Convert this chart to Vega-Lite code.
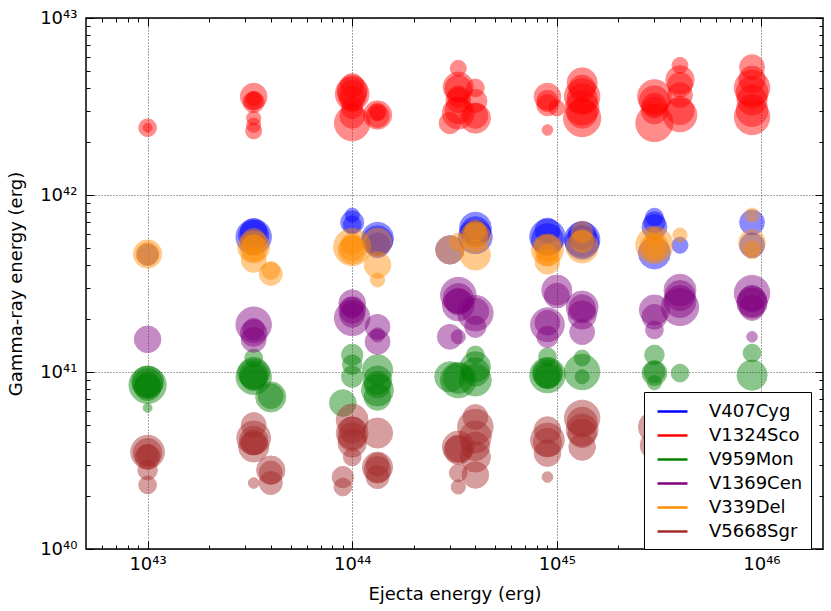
{
  "$schema": "https://vega.github.io/schema/vega-lite/v6.json",
  "width": 737,
  "height": 531,
  "autosize": {"type": "none"},
  "padding": {"left": 86, "top": 18, "right": 8, "bottom": 62},
  "background": "white",
  "data": {"values": [
    {"s": "V407Cyg", "x": 1e43, "y": 4.6e41, "w": 12},
    {"s": "V407Cyg", "x": 3.3e43, "y": 5.8e41, "w": 20},
    {"s": "V407Cyg", "x": 3.3e43, "y": 6.2e41, "w": 15},
    {"s": "V407Cyg", "x": 3.3e43, "y": 5.9e41, "w": 17},
    {"s": "V407Cyg", "x": 1e44, "y": 7e41, "w": 13},
    {"s": "V407Cyg", "x": 1e44, "y": 7.7e41, "w": 8},
    {"s": "V407Cyg", "x": 1e44, "y": 6.8e41, "w": 10},
    {"s": "V407Cyg", "x": 1.33e44, "y": 5.7e41, "w": 18},
    {"s": "V407Cyg", "x": 1.33e44, "y": 5.2e41, "w": 14},
    {"s": "V407Cyg", "x": 1.33e44, "y": 5.5e41, "w": 17},
    {"s": "V407Cyg", "x": 3e44, "y": 4.9e41, "w": 16},
    {"s": "V407Cyg", "x": 4e44, "y": 6.5e41, "w": 18},
    {"s": "V407Cyg", "x": 4e44, "y": 5.8e41, "w": 19},
    {"s": "V407Cyg", "x": 4e44, "y": 6.2e41, "w": 17},
    {"s": "V407Cyg", "x": 9e44, "y": 5.8e41, "w": 20},
    {"s": "V407Cyg", "x": 9e44, "y": 6.3e41, "w": 14},
    {"s": "V407Cyg", "x": 9e44, "y": 5.6e41, "w": 18},
    {"s": "V407Cyg", "x": 1.33e45, "y": 5.6e41, "w": 20},
    {"s": "V407Cyg", "x": 1.33e45, "y": 5.9e41, "w": 16},
    {"s": "V407Cyg", "x": 1.33e45, "y": 5.4e41, "w": 19},
    {"s": "V407Cyg", "x": 3e45, "y": 7.5e41, "w": 10},
    {"s": "V407Cyg", "x": 3e45, "y": 6.6e41, "w": 14},
    {"s": "V407Cyg", "x": 3e45, "y": 7e41, "w": 12},
    {"s": "V407Cyg", "x": 3e45, "y": 4.7e41, "w": 18},
    {"s": "V407Cyg", "x": 4e45, "y": 5.2e41, "w": 9},
    {"s": "V407Cyg", "x": 9e45, "y": 7e41, "w": 14},
    {"s": "V407Cyg", "x": 9e45, "y": 5.2e41, "w": 14},

    {"s": "V1324Sco", "x": 1e43, "y": 2.4e42, "w": 10},
    {"s": "V1324Sco", "x": 1e43, "y": 2.4e42, "w": 5},
    {"s": "V1324Sco", "x": 3.3e43, "y": 3.6e42, "w": 15},
    {"s": "V1324Sco", "x": 3.3e43, "y": 3.35e42, "w": 12},
    {"s": "V1324Sco", "x": 3.3e43, "y": 3.4e42, "w": 10},
    {"s": "V1324Sco", "x": 3.3e43, "y": 3.5e42, "w": 8},
    {"s": "V1324Sco", "x": 3.3e43, "y": 2.72e42, "w": 8},
    {"s": "V1324Sco", "x": 3.3e43, "y": 2.48e42, "w": 8},
    {"s": "V1324Sco", "x": 3.3e43, "y": 2.3e42, "w": 9},
    {"s": "V1324Sco", "x": 1e44, "y": 3.72e42, "w": 19},
    {"s": "V1324Sco", "x": 1e44, "y": 3.9e42, "w": 17},
    {"s": "V1324Sco", "x": 1e44, "y": 3.7e42, "w": 16},
    {"s": "V1324Sco", "x": 1e44, "y": 3.5e42, "w": 14},
    {"s": "V1324Sco", "x": 1e44, "y": 4.18e42, "w": 13},
    {"s": "V1324Sco", "x": 1e44, "y": 3.1e42, "w": 12},
    {"s": "V1324Sco", "x": 1e44, "y": 2.8e42, "w": 14},
    {"s": "V1324Sco", "x": 1e44, "y": 2.55e42, "w": 20},
    {"s": "V1324Sco", "x": 1.33e44, "y": 2.83e42, "w": 16},
    {"s": "V1324Sco", "x": 1.33e44, "y": 2.8e42, "w": 13},
    {"s": "V1324Sco", "x": 1.33e44, "y": 2.95e42, "w": 10},
    {"s": "V1324Sco", "x": 1.33e44, "y": 2.9e42, "w": 8},
    {"s": "V1324Sco", "x": 3e44, "y": 2.55e42, "w": 12},
    {"s": "V1324Sco", "x": 3.3e44, "y": 5.2e42, "w": 9},
    {"s": "V1324Sco", "x": 3.3e44, "y": 4.07e42, "w": 17},
    {"s": "V1324Sco", "x": 3.3e44, "y": 4.0e42, "w": 15},
    {"s": "V1324Sco", "x": 3.3e44, "y": 3.6e42, "w": 12},
    {"s": "V1324Sco", "x": 3.3e44, "y": 3.44e42, "w": 14},
    {"s": "V1324Sco", "x": 3.3e44, "y": 3.0e42, "w": 15},
    {"s": "V1324Sco", "x": 3.3e44, "y": 2.9e42, "w": 18},
    {"s": "V1324Sco", "x": 4e44, "y": 4.03e42, "w": 10},
    {"s": "V1324Sco", "x": 4e44, "y": 3.4e42, "w": 13},
    {"s": "V1324Sco", "x": 4e44, "y": 2.8e42, "w": 14},
    {"s": "V1324Sco", "x": 4e44, "y": 2.72e42, "w": 17},
    {"s": "V1324Sco", "x": 9e44, "y": 3.6e42, "w": 15},
    {"s": "V1324Sco", "x": 9e44, "y": 3.4e42, "w": 12},
    {"s": "V1324Sco", "x": 9e44, "y": 3.22e42, "w": 12},
    {"s": "V1324Sco", "x": 9e44, "y": 2.33e42, "w": 6},
    {"s": "V1324Sco", "x": 1e45, "y": 3.1e42, "w": 9},
    {"s": "V1324Sco", "x": 1.33e45, "y": 4.3e42, "w": 17},
    {"s": "V1324Sco", "x": 1.33e45, "y": 4.0e42, "w": 15},
    {"s": "V1324Sco", "x": 1.33e45, "y": 3.6e42, "w": 20},
    {"s": "V1324Sco", "x": 1.33e45, "y": 3.5e42, "w": 17},
    {"s": "V1324Sco", "x": 1.33e45, "y": 3.1e42, "w": 19},
    {"s": "V1324Sco", "x": 1.33e45, "y": 2.9e42, "w": 17},
    {"s": "V1324Sco", "x": 1.33e45, "y": 2.72e42, "w": 21},
    {"s": "V1324Sco", "x": 3e45, "y": 3.6e42, "w": 19},
    {"s": "V1324Sco", "x": 3e45, "y": 3.4e42, "w": 17},
    {"s": "V1324Sco", "x": 3e45, "y": 3.2e42, "w": 14},
    {"s": "V1324Sco", "x": 3e45, "y": 3.0e42, "w": 15},
    {"s": "V1324Sco", "x": 3e45, "y": 2.55e42, "w": 21},
    {"s": "V1324Sco", "x": 4e45, "y": 5.4e42, "w": 9},
    {"s": "V1324Sco", "x": 4e45, "y": 4.47e42, "w": 16},
    {"s": "V1324Sco", "x": 4e45, "y": 4.2e42, "w": 14},
    {"s": "V1324Sco", "x": 4e45, "y": 3.67e42, "w": 14},
    {"s": "V1324Sco", "x": 4e45, "y": 3.0e42, "w": 16},
    {"s": "V1324Sco", "x": 4e45, "y": 2.83e42, "w": 19},
    {"s": "V1324Sco", "x": 9e45, "y": 5.28e42, "w": 14},
    {"s": "V1324Sco", "x": 9e45, "y": 4.5e42, "w": 15},
    {"s": "V1324Sco", "x": 9e45, "y": 4.03e42, "w": 20},
    {"s": "V1324Sco", "x": 9e45, "y": 3.8e42, "w": 18},
    {"s": "V1324Sco", "x": 9e45, "y": 3.44e42, "w": 17},
    {"s": "V1324Sco", "x": 9e45, "y": 3.0e42, "w": 18},
    {"s": "V1324Sco", "x": 9e45, "y": 2.76e42, "w": 20},

    {"s": "V959Mon", "x": 1e43, "y": 8.45e40, "w": 21},
    {"s": "V959Mon", "x": 1e43, "y": 8.8e40, "w": 18},
    {"s": "V959Mon", "x": 1e43, "y": 8.6e40, "w": 17},
    {"s": "V959Mon", "x": 1e43, "y": 8.5e40, "w": 14},
    {"s": "V959Mon", "x": 1e43, "y": 8.2e40, "w": 15},
    {"s": "V959Mon", "x": 1e43, "y": 6.27e40, "w": 5},
    {"s": "V959Mon", "x": 3.3e43, "y": 9.4e40, "w": 20},
    {"s": "V959Mon", "x": 3.3e43, "y": 9.86e40, "w": 18},
    {"s": "V959Mon", "x": 3.3e43, "y": 9.6e40, "w": 16},
    {"s": "V959Mon", "x": 3.3e43, "y": 9.3e40, "w": 15},
    {"s": "V959Mon", "x": 3.3e43, "y": 1.2e41, "w": 10},
    {"s": "V959Mon", "x": 4e43, "y": 7.23e40, "w": 17},
    {"s": "V959Mon", "x": 4e43, "y": 7.3e40, "w": 14},
    {"s": "V959Mon", "x": 9e43, "y": 6.68e40, "w": 15},
    {"s": "V959Mon", "x": 1e44, "y": 1.25e41, "w": 12},
    {"s": "V959Mon", "x": 1e44, "y": 1.1e41, "w": 11},
    {"s": "V959Mon", "x": 1e44, "y": 9.4e40, "w": 12},
    {"s": "V959Mon", "x": 1.33e44, "y": 1.03e41, "w": 17},
    {"s": "V959Mon", "x": 1.33e44, "y": 9e40, "w": 16},
    {"s": "V959Mon", "x": 1.33e44, "y": 8.5e40, "w": 15},
    {"s": "V959Mon", "x": 1.33e44, "y": 7.9e40, "w": 18},
    {"s": "V959Mon", "x": 1.33e44, "y": 7.23e40, "w": 15},
    {"s": "V959Mon", "x": 3e44, "y": 9.4e40, "w": 17},
    {"s": "V959Mon", "x": 3.3e44, "y": 9.0e40, "w": 20},
    {"s": "V959Mon", "x": 3.3e44, "y": 9.2e40, "w": 17},
    {"s": "V959Mon", "x": 4e44, "y": 1.07e41, "w": 17},
    {"s": "V959Mon", "x": 4e44, "y": 1.0e41, "w": 16},
    {"s": "V959Mon", "x": 4e44, "y": 9.0e40, "w": 18},
    {"s": "V959Mon", "x": 4e44, "y": 1.25e41, "w": 10},
    {"s": "V959Mon", "x": 9e44, "y": 9.6e40, "w": 20},
    {"s": "V959Mon", "x": 9e44, "y": 9.86e40, "w": 17},
    {"s": "V959Mon", "x": 9e44, "y": 9.7e40, "w": 16},
    {"s": "V959Mon", "x": 9e44, "y": 9.5e40, "w": 14},
    {"s": "V959Mon", "x": 9e44, "y": 1.22e41, "w": 10},
    {"s": "V959Mon", "x": 1.33e45, "y": 1.0e41, "w": 20},
    {"s": "V959Mon", "x": 1.33e45, "y": 1.2e41, "w": 9},
    {"s": "V959Mon", "x": 1.33e45, "y": 9.4e40, "w": 8},
    {"s": "V959Mon", "x": 3e45, "y": 1.25e41, "w": 11},
    {"s": "V959Mon", "x": 3e45, "y": 1.0e41, "w": 12},
    {"s": "V959Mon", "x": 3e45, "y": 9.86e40, "w": 14},
    {"s": "V959Mon", "x": 3e45, "y": 8.7e40, "w": 8},
    {"s": "V959Mon", "x": 4e45, "y": 9.86e40, "w": 10},
    {"s": "V959Mon", "x": 9e45, "y": 9.6e40, "w": 17},
    {"s": "V959Mon", "x": 9e45, "y": 1.28e41, "w": 10},

    {"s": "V1369Cen", "x": 1e43, "y": 1.53e41, "w": 15},
    {"s": "V1369Cen", "x": 3.3e43, "y": 1.85e41, "w": 20},
    {"s": "V1369Cen", "x": 3.3e43, "y": 1.75e41, "w": 12},
    {"s": "V1369Cen", "x": 3.3e43, "y": 1.66e41, "w": 15},
    {"s": "V1369Cen", "x": 3.3e43, "y": 1.52e41, "w": 14},
    {"s": "V1369Cen", "x": 1e44, "y": 2.45e41, "w": 15},
    {"s": "V1369Cen", "x": 1e44, "y": 2.3e41, "w": 12},
    {"s": "V1369Cen", "x": 1e44, "y": 2.24e41, "w": 15},
    {"s": "V1369Cen", "x": 1e44, "y": 2.1e41, "w": 14},
    {"s": "V1369Cen", "x": 1e44, "y": 2.02e41, "w": 20},
    {"s": "V1369Cen", "x": 1.33e44, "y": 1.8e41, "w": 14},
    {"s": "V1369Cen", "x": 1.33e44, "y": 1.62e41, "w": 8},
    {"s": "V1369Cen", "x": 1.33e44, "y": 1.48e41, "w": 14},
    {"s": "V1369Cen", "x": 3e44, "y": 1.58e41, "w": 14},
    {"s": "V1369Cen", "x": 3.3e44, "y": 2.72e41, "w": 20},
    {"s": "V1369Cen", "x": 3.3e44, "y": 2.6e41, "w": 17},
    {"s": "V1369Cen", "x": 3.3e44, "y": 2.5e41, "w": 15},
    {"s": "V1369Cen", "x": 3.3e44, "y": 2.39e41, "w": 18},
    {"s": "V1369Cen", "x": 3.3e44, "y": 1.58e41, "w": 8},
    {"s": "V1369Cen", "x": 4e44, "y": 2.2e41, "w": 15},
    {"s": "V1369Cen", "x": 4e44, "y": 2.15e41, "w": 20},
    {"s": "V1369Cen", "x": 4e44, "y": 1.8e41, "w": 12},
    {"s": "V1369Cen", "x": 9e44, "y": 1.9e41, "w": 14},
    {"s": "V1369Cen", "x": 9e44, "y": 1.85e41, "w": 19},
    {"s": "V1369Cen", "x": 9e44, "y": 1.58e41, "w": 12},
    {"s": "V1369Cen", "x": 1e45, "y": 2.9e41, "w": 17},
    {"s": "V1369Cen", "x": 1e45, "y": 2.7e41, "w": 14},
    {"s": "V1369Cen", "x": 1.33e45, "y": 2.33e41, "w": 18},
    {"s": "V1369Cen", "x": 1.33e45, "y": 2.3e41, "w": 15},
    {"s": "V1369Cen", "x": 1.33e45, "y": 2.1e41, "w": 16},
    {"s": "V1369Cen", "x": 1.33e45, "y": 1.68e41, "w": 14},
    {"s": "V1369Cen", "x": 3e45, "y": 2.24e41, "w": 17},
    {"s": "V1369Cen", "x": 3e45, "y": 2.05e41, "w": 14},
    {"s": "V1369Cen", "x": 3e45, "y": 1.73e41, "w": 10},
    {"s": "V1369Cen", "x": 4e45, "y": 2.9e41, "w": 18},
    {"s": "V1369Cen", "x": 4e45, "y": 2.7e41, "w": 17},
    {"s": "V1369Cen", "x": 4e45, "y": 2.5e41, "w": 18},
    {"s": "V1369Cen", "x": 4e45, "y": 2.33e41, "w": 21},
    {"s": "V1369Cen", "x": 9e45, "y": 2.79e41, "w": 20},
    {"s": "V1369Cen", "x": 9e45, "y": 2.6e41, "w": 15},
    {"s": "V1369Cen", "x": 9e45, "y": 2.5e41, "w": 17},
    {"s": "V1369Cen", "x": 9e45, "y": 2.45e41, "w": 17},
    {"s": "V1369Cen", "x": 9e45, "y": 2.3e41, "w": 14},
    {"s": "V1369Cen", "x": 9e45, "y": 1.58e41, "w": 6},

    {"s": "V339Del", "x": 1e43, "y": 4.64e41, "w": 16},
    {"s": "V339Del", "x": 1e43, "y": 4.64e41, "w": 13},
    {"s": "V339Del", "x": 3.3e43, "y": 5.08e41, "w": 18},
    {"s": "V339Del", "x": 3.3e43, "y": 5.0e41, "w": 15},
    {"s": "V339Del", "x": 3.3e43, "y": 5.2e41, "w": 12},
    {"s": "V339Del", "x": 3.3e43, "y": 5.5e41, "w": 14},
    {"s": "V339Del", "x": 3.3e43, "y": 4.3e41, "w": 14},
    {"s": "V339Del", "x": 4e43, "y": 3.58e41, "w": 13},
    {"s": "V339Del", "x": 4e43, "y": 3.75e41, "w": 10},
    {"s": "V339Del", "x": 1e44, "y": 5.08e41, "w": 21},
    {"s": "V339Del", "x": 1e44, "y": 5.0e41, "w": 14},
    {"s": "V339Del", "x": 1e44, "y": 5.3e41, "w": 12},
    {"s": "V339Del", "x": 1e44, "y": 4.89e41, "w": 16},
    {"s": "V339Del", "x": 1.33e44, "y": 5.42e41, "w": 16},
    {"s": "V339Del", "x": 1.33e44, "y": 4.03e41, "w": 15},
    {"s": "V339Del", "x": 1.33e44, "y": 3.31e41, "w": 8},
    {"s": "V339Del", "x": 3e44, "y": 4.89e41, "w": 16},
    {"s": "V339Del", "x": 3.3e44, "y": 5.42e41, "w": 10},
    {"s": "V339Del", "x": 4e44, "y": 5.8e41, "w": 17},
    {"s": "V339Del", "x": 4e44, "y": 5.9e41, "w": 14},
    {"s": "V339Del", "x": 4e44, "y": 6.3e41, "w": 12},
    {"s": "V339Del", "x": 4e44, "y": 4.58e41, "w": 17},
    {"s": "V339Del", "x": 9e44, "y": 4.89e41, "w": 18},
    {"s": "V339Del", "x": 9e44, "y": 5.0e41, "w": 15},
    {"s": "V339Del", "x": 9e44, "y": 4.58e41, "w": 12},
    {"s": "V339Del", "x": 9e44, "y": 4.2e41, "w": 14},
    {"s": "V339Del", "x": 1.33e45, "y": 6.18e41, "w": 12},
    {"s": "V339Del", "x": 1.33e45, "y": 5.5e41, "w": 13},
    {"s": "V339Del", "x": 1.33e45, "y": 5.08e41, "w": 18},
    {"s": "V339Del", "x": 3e45, "y": 5.22e41, "w": 21},
    {"s": "V339Del", "x": 3e45, "y": 5.1e41, "w": 13},
    {"s": "V339Del", "x": 3e45, "y": 5.08e41, "w": 16},
    {"s": "V339Del", "x": 3e45, "y": 5.8e41, "w": 10},
    {"s": "V339Del", "x": 4e45, "y": 5.94e41, "w": 8},
    {"s": "V339Del", "x": 9e45, "y": 7.7e41, "w": 8},
    {"s": "V339Del", "x": 9e45, "y": 5.36e41, "w": 15},
    {"s": "V339Del", "x": 9e45, "y": 4.89e41, "w": 10},

    {"s": "V5668Sgr", "x": 1e43, "y": 3.53e40, "w": 19},
    {"s": "V5668Sgr", "x": 1e43, "y": 3.5e40, "w": 16},
    {"s": "V5668Sgr", "x": 1e43, "y": 3.4e40, "w": 12},
    {"s": "V5668Sgr", "x": 1e43, "y": 3.31e40, "w": 14},
    {"s": "V5668Sgr", "x": 1e43, "y": 2.79e40, "w": 11},
    {"s": "V5668Sgr", "x": 1e43, "y": 2.3e40, "w": 10},
    {"s": "V5668Sgr", "x": 3.3e43, "y": 4.24e40, "w": 19},
    {"s": "V5668Sgr", "x": 3.3e43, "y": 4.1e40, "w": 16},
    {"s": "V5668Sgr", "x": 3.3e43, "y": 4.0e40, "w": 14},
    {"s": "V5668Sgr", "x": 3.3e43, "y": 5.02e40, "w": 14},
    {"s": "V5668Sgr", "x": 3.3e43, "y": 3.77e40, "w": 17},
    {"s": "V5668Sgr", "x": 3.3e43, "y": 2.36e40, "w": 6},
    {"s": "V5668Sgr", "x": 4e43, "y": 2.79e40, "w": 16},
    {"s": "V5668Sgr", "x": 4e43, "y": 2.7e40, "w": 13},
    {"s": "V5668Sgr", "x": 4e43, "y": 2.36e40, "w": 13},
    {"s": "V5668Sgr", "x": 9e43, "y": 2.55e40, "w": 12},
    {"s": "V5668Sgr", "x": 9e43, "y": 2.24e40, "w": 10},
    {"s": "V5668Sgr", "x": 1e44, "y": 5.36e40, "w": 18},
    {"s": "V5668Sgr", "x": 1e44, "y": 4.7e40, "w": 15},
    {"s": "V5668Sgr", "x": 1e44, "y": 4.52e40, "w": 18},
    {"s": "V5668Sgr", "x": 1e44, "y": 4.3e40, "w": 16},
    {"s": "V5668Sgr", "x": 1e44, "y": 3.97e40, "w": 16},
    {"s": "V5668Sgr", "x": 1e44, "y": 3.31e40, "w": 10},
    {"s": "V5668Sgr", "x": 1.33e44, "y": 4.52e40, "w": 17},
    {"s": "V5668Sgr", "x": 1.33e44, "y": 3.0e40, "w": 13},
    {"s": "V5668Sgr", "x": 1.33e44, "y": 2.9e40, "w": 17},
    {"s": "V5668Sgr", "x": 1.33e44, "y": 2.8e40, "w": 15},
    {"s": "V5668Sgr", "x": 1.33e44, "y": 2.55e40, "w": 13},
    {"s": "V5668Sgr", "x": 3.3e44, "y": 3.77e40, "w": 18},
    {"s": "V5668Sgr", "x": 3.3e44, "y": 3.7e40, "w": 15},
    {"s": "V5668Sgr", "x": 3.3e44, "y": 3.62e40, "w": 16},
    {"s": "V5668Sgr", "x": 3.3e44, "y": 2.69e40, "w": 10},
    {"s": "V5668Sgr", "x": 3.3e44, "y": 2.24e40, "w": 8},
    {"s": "V5668Sgr", "x": 4e44, "y": 5.57e40, "w": 14},
    {"s": "V5668Sgr", "x": 4e44, "y": 4.89e40, "w": 20},
    {"s": "V5668Sgr", "x": 4e44, "y": 4.3e40, "w": 18},
    {"s": "V5668Sgr", "x": 4e44, "y": 3.8e40, "w": 16},
    {"s": "V5668Sgr", "x": 4e44, "y": 3.31e40, "w": 17},
    {"s": "V5668Sgr", "x": 4e44, "y": 2.62e40, "w": 15},
    {"s": "V5668Sgr", "x": 9e44, "y": 4.7e40, "w": 15},
    {"s": "V5668Sgr", "x": 9e44, "y": 4.13e40, "w": 19},
    {"s": "V5668Sgr", "x": 9e44, "y": 4.0e40, "w": 16},
    {"s": "V5668Sgr", "x": 9e44, "y": 3.48e40, "w": 15},
    {"s": "V5668Sgr", "x": 9e44, "y": 2.55e40, "w": 6},
    {"s": "V5668Sgr", "x": 1.33e45, "y": 5.5e40, "w": 20},
    {"s": "V5668Sgr", "x": 1.33e45, "y": 5.2e40, "w": 17},
    {"s": "V5668Sgr", "x": 1.33e45, "y": 4.7e40, "w": 18},
    {"s": "V5668Sgr", "x": 1.33e45, "y": 4.5e40, "w": 16},
    {"s": "V5668Sgr", "x": 1.33e45, "y": 3.77e40, "w": 15},
    {"s": "V5668Sgr", "x": 3e45, "y": 4.89e40, "w": 18},
    {"s": "V5668Sgr", "x": 3e45, "y": 3.85e40, "w": 16},
    {"s": "V5668Sgr", "x": 4e45, "y": 5.36e40, "w": 18},
    {"s": "V5668Sgr", "x": 4e45, "y": 4.13e40, "w": 16},
    {"s": "V5668Sgr", "x": 9e45, "y": 5.0e40, "w": 18},
    {"s": "V5668Sgr", "x": 9e45, "y": 3.85e40, "w": 15}
  ]},
  "layer": [
    {
      "mark": {"type": "circle", "opacity": 0.45, "strokeWidth": 1},
      "encoding": {
        "x": {
          "field": "x", "type": "quantitative",
          "scale": {"type": "log", "domain": [5e42, 2e46], "nice": false},
          "axis": {
            "orient": "bottom",
            "title": "Ejecta energy (erg)",
            "values": [6e42, 7e42, 8e42, 9e42, 1e43, 2e43, 3e43, 4e43, 5e43, 6e43, 7e43, 8e43, 9e43, 1e44, 2e44, 3e44, 4e44, 5e44, 6e44, 7e44, 8e44, 9e44, 1e45, 2e45, 3e45, 4e45, 5e45, 6e45, 7e45, 8e45, 9e45, 1e46],
            "labelExpr": "round(log(datum.value)/LN10*1000) % 1000 == 0 ? '10' + ['⁴⁰','⁴¹','⁴²','⁴³','⁴⁴','⁴⁵','⁴⁶'][round(log(datum.value)/LN10) - 40] : ''",
            "gridOpacity": {"condition": {"test": "round(log(datum.value)/LN10*1000) % 1000 == 0", "value": 0.7}, "value": 0},
            "tickSize": {"condition": {"test": "round(log(datum.value)/LN10*1000) % 1000 == 0", "value": -8}, "value": -4},
            "labelPadding": 14,
            "titlePadding": 8
          }
        },
        "y": {
          "field": "y", "type": "quantitative",
          "scale": {"type": "log", "domain": [1e40, 1e43], "nice": false},
          "axis": {
            "orient": "left",
            "title": "Gamma-ray energy (erg)",
            "values": [1e40, 2e40, 3e40, 4e40, 5e40, 6e40, 7e40, 8e40, 9e40, 1e41, 2e41, 3e41, 4e41, 5e41, 6e41, 7e41, 8e41, 9e41, 1e42, 2e42, 3e42, 4e42, 5e42, 6e42, 7e42, 8e42, 9e42, 1e43],
            "labelExpr": "round(log(datum.value)/LN10*1000) % 1000 == 0 ? '10' + ['⁴⁰','⁴¹','⁴²','⁴³','⁴⁴','⁴⁵','⁴⁶'][round(log(datum.value)/LN10) - 40] : ''",
            "gridOpacity": {"condition": {"test": "round(log(datum.value)/LN10*1000) % 1000 == 0", "value": 0.7}, "value": 0},
            "tickSize": {"condition": {"test": "round(log(datum.value)/LN10*1000) % 1000 == 0", "value": -8}, "value": -4},
            "labelPadding": 17,
            "titlePadding": 14
          }
        },
        "size": {
          "field": "w", "type": "quantitative",
          "scale": {"type": "pow", "exponent": 2, "domain": [0, 20], "range": [0, 1257]},
          "legend": null
        },
        "color": {
          "field": "s", "type": "nominal",
          "scale": {
            "domain": ["V407Cyg", "V1324Sco", "V959Mon", "V1369Cen", "V339Del", "V5668Sgr"],
            "range": ["#0000ff", "#ff0000", "#008000", "#800080", "#ff8c00", "#a52a2a"]
          },
          "legend": {
            "title": null,
            "orient": "none",
            "legendX": 558,
            "legendY": 374,
            "symbolType": "M-1.5,0H1.5",
            "symbolSize": 400,
            "symbolStrokeWidth": 2.5,
            "symbolOpacity": 1,
            "symbolOffset": 9,
            "labelFontSize": 18,
            "labelFont": "DejaVu Sans",
            "labelColor": "black",
            "labelOffset": 25,
            "rowPadding": 3,
            "padding": 8,
            "strokeColor": "black",
            "fillColor": "white",
            "cornerRadius": 0,
            "zindex": 3,
            "encode": {"symbols": {"update": {"stroke": {"scale": "color", "field": "value"}, "opacity": {"value": 1}}}}
          }
        },
        "stroke": {
          "field": "s", "type": "nominal",
          "scale": {
            "domain": ["V407Cyg", "V1324Sco", "V959Mon", "V1369Cen", "V339Del", "V5668Sgr"],
            "range": ["#0000ff", "#ff0000", "#008000", "#800080", "#ff8c00", "#a52a2a"]
          },
          "legend": null
        }
      }
    },
    {
      "mark": {"type": "circle", "opacity": 0},
      "encoding": {
        "x": {
          "field": "x", "type": "quantitative",
          "axis": {
            "orient": "top",
            "title": null,
            "labels": false,
            "grid": false,
            "values": [6e42, 7e42, 8e42, 9e42, 1e43, 2e43, 3e43, 4e43, 5e43, 6e43, 7e43, 8e43, 9e43, 1e44, 2e44, 3e44, 4e44, 5e44, 6e44, 7e44, 8e44, 9e44, 1e45, 2e45, 3e45, 4e45, 5e45, 6e45, 7e45, 8e45, 9e45, 1e46],
            "tickSize": {"condition": {"test": "round(log(datum.value)/LN10*1000) % 1000 == 0", "value": -8}, "value": -4}
          }
        },
        "y": {
          "field": "y", "type": "quantitative",
          "axis": {
            "orient": "right",
            "title": null,
            "labels": false,
            "grid": false,
            "values": [1e40, 2e40, 3e40, 4e40, 5e40, 6e40, 7e40, 8e40, 9e40, 1e41, 2e41, 3e41, 4e41, 5e41, 6e41, 7e41, 8e41, 9e41, 1e42, 2e42, 3e42, 4e42, 5e42, 6e42, 7e42, 8e42, 9e42, 1e43],
            "tickSize": {"condition": {"test": "round(log(datum.value)/LN10*1000) % 1000 == 0", "value": -8}, "value": -4}
          }
        }
      }
    }
  ],
  "resolve": {"axis": {"x": "independent", "y": "independent"}},
  "config": {
    "view": {"stroke": "black", "strokeWidth": 1.5},
    "font": "DejaVu Sans",
    "axis": {
      "domain": false,
      "zindex": 1,
      "tickColor": "black",
      "tickWidth": 1,
      "gridColor": "black",
      "gridDash": [1, 2],
      "gridWidth": 1,
      "labelFont": "DejaVu Sans",
      "labelFontSize": 18,
      "labelColor": "black",
      "labelOverlap": false,
      "labelFlush": false,
      "titleFont": "DejaVu Sans",
      "titleFontSize": 18,
      "titleFontWeight": "normal",
      "titleColor": "black"
    }
  }
}
